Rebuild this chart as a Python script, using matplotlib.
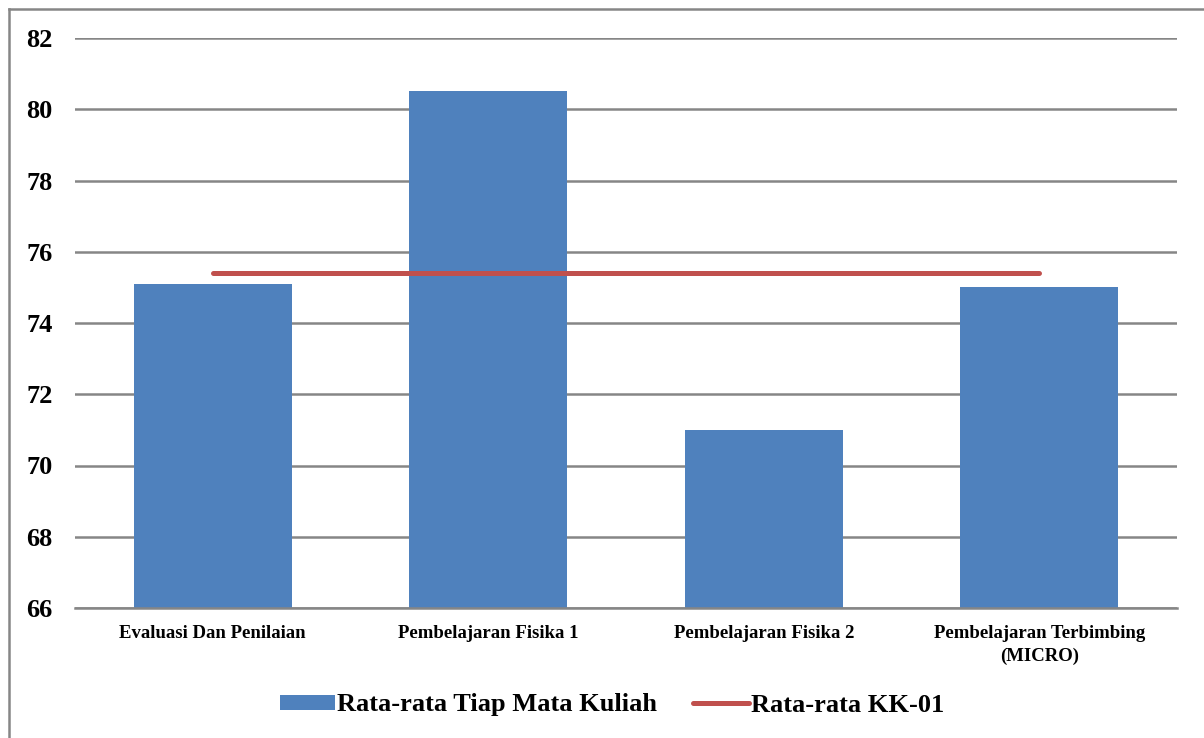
import matplotlib.pyplot as plt
from matplotlib.lines import Line2D
import numpy as np

categories = ["Evaluasi Dan Penilaian", "Pembelajaran Fisika 1",
              "Pembelajaran Fisika 2", "Pembelajaran Terbimbing\n(MICRO)"]
rata_mk = [75.1, 80.5, 71.0, 75.0]
rata_kk = [75.4, 75.4, 75.4, 75.4]
yticks = [66, 68, 70, 72, 74, 76, 78, 80, 82]

plt.rcParams['font.family'] = ['Liberation Serif', 'DejaVu Serif']
plt.rcParams['font.weight'] = 'bold'

W, H = 1204, 738
fig = plt.figure(figsize=(W / 100, H / 100), dpi=100)
ax = fig.add_axes([75 / W, 1 - 608 / H, (1177 - 75) / W, (608 - 38) / H])

x = np.arange(len(categories))
bars = ax.bar(x, [v - 66 for v in rata_mk], bottom=66, width=0.575,
              color="#4f81bd", zorder=2, label="Rata-rata Tiap Mata Kuliah")
line, = ax.plot(x, rata_kk, color="#c0504d", lw=3.6, solid_capstyle="round",
                zorder=3, label="Rata-rata KK-01")

ax.set_xlim(-0.5, 3.5)
ax.set_ylim(66, 82)
ax.set_yticks(yticks)
ax.set_yticklabels([str(t) for t in yticks], fontsize=19, fontweight="bold")
ax.set_xticks(x)
ax.set_xticklabels(categories, fontsize=13.5, fontweight="bold", linespacing=1.45)
ax.tick_params(axis="y", length=0, pad=16)
ax.tick_params(axis="x", length=0, pad=12)
ax.grid(axis="y", color="#868686", lw=1.8, zorder=1)
for s in ["left", "right", "top"]:
    ax.spines[s].set_visible(False)
ax.spines["bottom"].set_color("#868686")
ax.spines["bottom"].set_linewidth(1.8)

fig.legend(handles=[bars, line], loc="center", bbox_to_anchor=(612 / W, 1 - 705 / H),
           ncol=2, frameon=False, prop={"size": 19, "weight": "bold"},
           handlelength=2.1, handleheight=0.5, handletextpad=0.08, columnspacing=1.36)

# outer frame (left and top edges)
fig.add_artist(Line2D([8.5 / W, 8.5 / W], [0, 1 - 8.5 / H], color="#868686", lw=1.8,
                      transform=fig.transFigure))
fig.add_artist(Line2D([8.5 / W, 1], [1 - 8.5 / H, 1 - 8.5 / H], color="#868686", lw=1.8,
                      transform=fig.transFigure))

fig.savefig("out.png", dpi=100)
